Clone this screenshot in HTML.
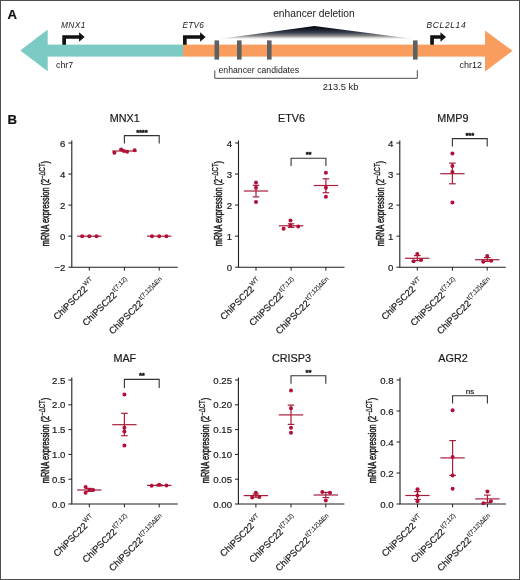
<!DOCTYPE html>
<html><head><meta charset="utf-8"><style>
html,body{margin:0;padding:0;background:#fff;}
body{width:520px;height:580px;overflow:hidden;}
svg{display:block;font-family:"Liberation Sans", sans-serif;will-change:transform;}
text{stroke:#1a1a1a;stroke-width:0.2px;}
text.na{stroke:none;}
</style></head><body>
<svg width="520" height="580" viewBox="0 0 520 580">
<rect x="0" y="0" width="520" height="580" fill="#fff"/>
<text x="7.6" y="18.6" font-size="13.2" font-weight="bold" fill="#111">A</text>
<defs><linearGradient id="tg" x1="0" y1="0" x2="0" y2="1"><stop offset="0" stop-color="#05070e"/><stop offset="0.25" stop-color="#151a28"/><stop offset="0.5" stop-color="#394050"/><stop offset="0.75" stop-color="#8d8c8a"/><stop offset="0.9" stop-color="#e4e4e2"/><stop offset="1" stop-color="#fff"/></linearGradient></defs>
<polygon points="314.4,26 216.5,39.3 416,39.3" fill="url(#tg)"/>
<rect x="47" y="44.6" width="136.5" height="12" fill="#7ccac4"/>
<polygon points="20.3,50.5 47.7,29.6 47.7,71.2" fill="#7ccac4"/>
<rect x="183" y="44.6" width="303" height="12" fill="#f99d5f"/>
<polygon points="485,30.6 512.6,50.8 485,71.6" fill="#f99d5f"/>
<rect x="214.5" y="40.4" width="4.6" height="19.2" fill="#5f6062"/>
<rect x="237" y="40.4" width="4.6" height="19.2" fill="#5f6062"/>
<rect x="267" y="40.4" width="4.6" height="19.2" fill="#5f6062"/>
<rect x="413" y="40.4" width="4.6" height="19.2" fill="#5f6062"/>
<path d="M62.3,44.8 L62.3,35.2 L79.1,35.2 L79.1,32.2 L84.6,36.9 L79.1,41.8 L79.1,38.7 L66.0,38.7 L66.0,44.8 Z" fill="#111"/>
<path d="M183,44.8 L183,35.2 L200.1,35.2 L200.1,32.2 L205.6,36.9 L200.1,41.8 L200.1,38.7 L186.7,38.7 L186.7,44.8 Z" fill="#111"/>
<path d="M430.2,44.8 L430.2,35.2 L440.5,35.2 L440.5,32.2 L446,36.9 L440.5,41.8 L440.5,38.7 L433.9,38.7 L433.9,44.8 Z" fill="#111"/>
<text class="na" x="61.0" y="28.4" font-size="8.4" font-style="italic" letter-spacing="0.35" fill="#1a1a1a">MNX1</text>
<text class="na" x="182.4" y="28.3" font-size="8.4" font-style="italic" letter-spacing="0.2" fill="#1a1a1a">ETV6</text>
<text class="na" x="426.5" y="28.3" font-size="8.4" font-style="italic" letter-spacing="0.7" fill="#1a1a1a">BCL2L14</text>
<text class="na" x="313.9" y="16.9" font-size="10.25" text-anchor="middle" fill="#1a1a1a">enhancer deletion</text>
<text class="na" x="56" y="67.7" font-size="8.8" fill="#1a1a1a">chr7</text>
<text class="na" x="459.6" y="68.0" font-size="9" fill="#1a1a1a">chr12</text>
<text class="na" x="218.5" y="72.8" font-size="8.7" fill="#1a1a1a">enhancer candidates</text>
<text class="na" x="340.5" y="89.6" font-size="9.3" text-anchor="middle" fill="#1a1a1a">213.5 kb</text>
<path d="M214.8,70.5 V78.3 H417.3 V70.2" fill="none" stroke="#4a4a4a" stroke-width="1"/>
<text x="7.4" y="123.8" font-size="13.2" font-weight="bold" fill="#111">B</text>
<path d="M71.8,140.4 V267.2 H177.8" fill="none" stroke="#1e1e1e" stroke-width="1.1"/>
<line x1="68.39999999999999" y1="267.20" x2="71.8" y2="267.20" stroke="#1e1e1e" stroke-width="1"/>
<text x="65.39999999999999" y="270.70" font-size="9.6" text-anchor="end" fill="#1a1a1a">−2</text>
<line x1="68.39999999999999" y1="236.15" x2="71.8" y2="236.15" stroke="#1e1e1e" stroke-width="1"/>
<text x="65.39999999999999" y="239.65" font-size="9.6" text-anchor="end" fill="#1a1a1a">0</text>
<line x1="68.39999999999999" y1="205.10" x2="71.8" y2="205.10" stroke="#1e1e1e" stroke-width="1"/>
<text x="65.39999999999999" y="208.60" font-size="9.6" text-anchor="end" fill="#1a1a1a">2</text>
<line x1="68.39999999999999" y1="174.05" x2="71.8" y2="174.05" stroke="#1e1e1e" stroke-width="1"/>
<text x="65.39999999999999" y="177.55" font-size="9.6" text-anchor="end" fill="#1a1a1a">4</text>
<line x1="68.39999999999999" y1="143.00" x2="71.8" y2="143.00" stroke="#1e1e1e" stroke-width="1"/>
<text x="65.39999999999999" y="146.50" font-size="9.6" text-anchor="end" fill="#1a1a1a">6</text>
<line x1="89.3" y1="267.2" x2="89.3" y2="270.59999999999997" stroke="#1e1e1e" stroke-width="1"/>
<line x1="124.4" y1="267.2" x2="124.4" y2="270.59999999999997" stroke="#1e1e1e" stroke-width="1"/>
<line x1="159.2" y1="267.2" x2="159.2" y2="270.59999999999997" stroke="#1e1e1e" stroke-width="1"/>
<text x="124.8" y="122.0" font-size="10.8" text-anchor="middle" fill="#1a1a1a">MNX1</text>
<text transform="translate(49.0,203.6) rotate(-90) scale(0.7,1)" font-size="10.5" text-anchor="middle" fill="#1a1a1a" style="stroke-width:0.45px">mRNA expression (2<tspan font-size="8.6" dy="-4.2" style="stroke-width:0.3px">−ΔCT</tspan><tspan dy="4.2">)</tspan></text>
<text transform="translate(95.40,282.30) rotate(-45)" font-size="9.3" text-anchor="end" fill="#1a1a1a">ChiPSC22<tspan font-size="6.3" dx="0.8" dy="-4.3" style="stroke-width:0.1px">WT</tspan></text>
<text transform="translate(130.50,282.30) rotate(-45)" font-size="9.3" text-anchor="end" fill="#1a1a1a">ChiPSC22<tspan font-size="6.3" dx="0.8" dy="-4.3" style="stroke-width:0.1px">t(7;12)</tspan></text>
<text transform="translate(165.30,282.30) rotate(-45)" font-size="9.3" text-anchor="end" fill="#1a1a1a">ChiPSC22<tspan font-size="6.3" dx="0.8" dy="-4.3" style="stroke-width:0.1px">t(7;12)ΔEn</tspan></text>
<line x1="77.1" y1="236.15" x2="101.5" y2="236.15" stroke="#a61f3b" stroke-width="1.2"/>
<circle cx="82.10" cy="236.15" r="2.0" fill="#b30f38"/>
<circle cx="89.30" cy="236.15" r="2.0" fill="#b30f38"/>
<circle cx="96.50" cy="236.15" r="2.0" fill="#b30f38"/>
<line x1="112.2" y1="151.01" x2="136.6" y2="151.01" stroke="#a61f3b" stroke-width="1.2"/>
<circle cx="114.40" cy="152.82" r="2.0" fill="#b30f38"/>
<circle cx="121.10" cy="149.51" r="2.0" fill="#b30f38"/>
<circle cx="123.90" cy="150.91" r="2.0" fill="#b30f38"/>
<circle cx="127.10" cy="151.71" r="2.0" fill="#b30f38"/>
<circle cx="134.60" cy="150.31" r="2.0" fill="#b30f38"/>
<line x1="147.0" y1="236.15" x2="171.39999999999998" y2="236.15" stroke="#a61f3b" stroke-width="1.2"/>
<circle cx="152.00" cy="236.15" r="2.0" fill="#b30f38"/>
<circle cx="159.20" cy="236.15" r="2.0" fill="#b30f38"/>
<circle cx="166.40" cy="236.15" r="2.0" fill="#b30f38"/>
<path d="M124.4,143.6 V135.6 H159.2 V143.6" fill="none" stroke="#333" stroke-width="1.1"/>
<text x="141.8" y="134.6" font-size="7.8" letter-spacing="-0.2" style="stroke-width:0.55px" text-anchor="middle" fill="#1a1a1a">****</text>
<path d="M238.5,140.4 V267.2 H344.5" fill="none" stroke="#1e1e1e" stroke-width="1.1"/>
<line x1="235.1" y1="267.20" x2="238.5" y2="267.20" stroke="#1e1e1e" stroke-width="1"/>
<text x="232.1" y="270.70" font-size="9.6" text-anchor="end" fill="#1a1a1a">0</text>
<line x1="235.1" y1="236.15" x2="238.5" y2="236.15" stroke="#1e1e1e" stroke-width="1"/>
<text x="232.1" y="239.65" font-size="9.6" text-anchor="end" fill="#1a1a1a">1</text>
<line x1="235.1" y1="205.10" x2="238.5" y2="205.10" stroke="#1e1e1e" stroke-width="1"/>
<text x="232.1" y="208.60" font-size="9.6" text-anchor="end" fill="#1a1a1a">2</text>
<line x1="235.1" y1="174.05" x2="238.5" y2="174.05" stroke="#1e1e1e" stroke-width="1"/>
<text x="232.1" y="177.55" font-size="9.6" text-anchor="end" fill="#1a1a1a">3</text>
<line x1="235.1" y1="143.00" x2="238.5" y2="143.00" stroke="#1e1e1e" stroke-width="1"/>
<text x="232.1" y="146.50" font-size="9.6" text-anchor="end" fill="#1a1a1a">4</text>
<line x1="256.0" y1="267.2" x2="256.0" y2="270.59999999999997" stroke="#1e1e1e" stroke-width="1"/>
<line x1="291.1" y1="267.2" x2="291.1" y2="270.59999999999997" stroke="#1e1e1e" stroke-width="1"/>
<line x1="325.9" y1="267.2" x2="325.9" y2="270.59999999999997" stroke="#1e1e1e" stroke-width="1"/>
<text x="291.5" y="122.0" font-size="10.8" text-anchor="middle" fill="#1a1a1a">ETV6</text>
<text transform="translate(222.4,203.6) rotate(-90) scale(0.7,1)" font-size="10.5" text-anchor="middle" fill="#1a1a1a" style="stroke-width:0.45px">mRNA expression (2<tspan font-size="8.6" dy="-4.2" style="stroke-width:0.3px">−ΔCT</tspan><tspan dy="4.2">)</tspan></text>
<text transform="translate(262.10,282.30) rotate(-45)" font-size="9.3" text-anchor="end" fill="#1a1a1a">ChiPSC22<tspan font-size="6.3" dx="0.8" dy="-4.3" style="stroke-width:0.1px">WT</tspan></text>
<text transform="translate(297.20,282.30) rotate(-45)" font-size="9.3" text-anchor="end" fill="#1a1a1a">ChiPSC22<tspan font-size="6.3" dx="0.8" dy="-4.3" style="stroke-width:0.1px">t(7;12)</tspan></text>
<text transform="translate(332.00,282.30) rotate(-45)" font-size="9.3" text-anchor="end" fill="#1a1a1a">ChiPSC22<tspan font-size="6.3" dx="0.8" dy="-4.3" style="stroke-width:0.1px">t(7;12)ΔEn</tspan></text>
<line x1="243.8" y1="191.00" x2="268.2" y2="191.00" stroke="#a61f3b" stroke-width="1.2"/>
<line x1="256.0" y1="185.30" x2="256.0" y2="196.90" stroke="#a61f3b" stroke-width="1.2"/>
<line x1="252.7" y1="185.30" x2="259.3" y2="185.30" stroke="#a61f3b" stroke-width="1.2"/>
<line x1="252.7" y1="196.90" x2="259.3" y2="196.90" stroke="#a61f3b" stroke-width="1.2"/>
<circle cx="256.00" cy="182.40" r="2.0" fill="#b30f38"/>
<circle cx="256.00" cy="187.70" r="2.0" fill="#b30f38"/>
<circle cx="256.00" cy="202.00" r="2.0" fill="#b30f38"/>
<line x1="278.90000000000003" y1="225.80" x2="303.3" y2="225.80" stroke="#a61f3b" stroke-width="1.2"/>
<line x1="291.1" y1="223.80" x2="291.1" y2="227.40" stroke="#a61f3b" stroke-width="1.2"/>
<line x1="287.8" y1="223.80" x2="294.40000000000003" y2="223.80" stroke="#a61f3b" stroke-width="1.2"/>
<line x1="287.8" y1="227.40" x2="294.40000000000003" y2="227.40" stroke="#a61f3b" stroke-width="1.2"/>
<circle cx="283.60" cy="228.80" r="2.0" fill="#b30f38"/>
<circle cx="290.50" cy="220.40" r="2.0" fill="#b30f38"/>
<circle cx="290.50" cy="225.40" r="2.0" fill="#b30f38"/>
<circle cx="298.20" cy="226.50" r="2.0" fill="#b30f38"/>
<line x1="313.7" y1="185.50" x2="338.09999999999997" y2="185.50" stroke="#a61f3b" stroke-width="1.2"/>
<line x1="325.9" y1="178.80" x2="325.9" y2="192.70" stroke="#a61f3b" stroke-width="1.2"/>
<line x1="322.59999999999997" y1="178.80" x2="329.2" y2="178.80" stroke="#a61f3b" stroke-width="1.2"/>
<line x1="322.59999999999997" y1="192.70" x2="329.2" y2="192.70" stroke="#a61f3b" stroke-width="1.2"/>
<circle cx="325.90" cy="172.70" r="2.0" fill="#b30f38"/>
<circle cx="325.90" cy="187.70" r="2.0" fill="#b30f38"/>
<circle cx="325.90" cy="196.70" r="2.0" fill="#b30f38"/>
<path d="M291.1,166.0 V158.2 H325.9 V166.0" fill="none" stroke="#333" stroke-width="1.1"/>
<text x="308.5" y="157.2" font-size="7.8" letter-spacing="-0.2" style="stroke-width:0.55px" text-anchor="middle" fill="#1a1a1a">**</text>
<path d="M399.8,140.4 V267.2 H505.8" fill="none" stroke="#1e1e1e" stroke-width="1.1"/>
<line x1="396.40000000000003" y1="267.20" x2="399.8" y2="267.20" stroke="#1e1e1e" stroke-width="1"/>
<text x="393.40000000000003" y="270.70" font-size="9.6" text-anchor="end" fill="#1a1a1a">0</text>
<line x1="396.40000000000003" y1="236.15" x2="399.8" y2="236.15" stroke="#1e1e1e" stroke-width="1"/>
<text x="393.40000000000003" y="239.65" font-size="9.6" text-anchor="end" fill="#1a1a1a">1</text>
<line x1="396.40000000000003" y1="205.10" x2="399.8" y2="205.10" stroke="#1e1e1e" stroke-width="1"/>
<text x="393.40000000000003" y="208.60" font-size="9.6" text-anchor="end" fill="#1a1a1a">2</text>
<line x1="396.40000000000003" y1="174.05" x2="399.8" y2="174.05" stroke="#1e1e1e" stroke-width="1"/>
<text x="393.40000000000003" y="177.55" font-size="9.6" text-anchor="end" fill="#1a1a1a">3</text>
<line x1="396.40000000000003" y1="143.00" x2="399.8" y2="143.00" stroke="#1e1e1e" stroke-width="1"/>
<text x="393.40000000000003" y="146.50" font-size="9.6" text-anchor="end" fill="#1a1a1a">4</text>
<line x1="417.3" y1="267.2" x2="417.3" y2="270.59999999999997" stroke="#1e1e1e" stroke-width="1"/>
<line x1="452.40000000000003" y1="267.2" x2="452.40000000000003" y2="270.59999999999997" stroke="#1e1e1e" stroke-width="1"/>
<line x1="487.20000000000005" y1="267.2" x2="487.20000000000005" y2="270.59999999999997" stroke="#1e1e1e" stroke-width="1"/>
<text x="452.8" y="122.0" font-size="10.8" text-anchor="middle" fill="#1a1a1a">MMP9</text>
<text transform="translate(384.2,203.6) rotate(-90) scale(0.7,1)" font-size="10.5" text-anchor="middle" fill="#1a1a1a" style="stroke-width:0.45px">mRNA expression (2<tspan font-size="8.6" dy="-4.2" style="stroke-width:0.3px">−ΔCT</tspan><tspan dy="4.2">)</tspan></text>
<text transform="translate(423.40,282.30) rotate(-45)" font-size="9.3" text-anchor="end" fill="#1a1a1a">ChiPSC22<tspan font-size="6.3" dx="0.8" dy="-4.3" style="stroke-width:0.1px">WT</tspan></text>
<text transform="translate(458.50,282.30) rotate(-45)" font-size="9.3" text-anchor="end" fill="#1a1a1a">ChiPSC22<tspan font-size="6.3" dx="0.8" dy="-4.3" style="stroke-width:0.1px">t(7;12)</tspan></text>
<text transform="translate(493.30,282.30) rotate(-45)" font-size="9.3" text-anchor="end" fill="#1a1a1a">ChiPSC22<tspan font-size="6.3" dx="0.8" dy="-4.3" style="stroke-width:0.1px">t(7;12)ΔEn</tspan></text>
<line x1="405.1" y1="258.30" x2="429.5" y2="258.30" stroke="#a61f3b" stroke-width="1.2"/>
<line x1="417.3" y1="255.60" x2="417.3" y2="260.60" stroke="#a61f3b" stroke-width="1.2"/>
<line x1="414.0" y1="255.60" x2="420.6" y2="255.60" stroke="#a61f3b" stroke-width="1.2"/>
<line x1="414.0" y1="260.60" x2="420.6" y2="260.60" stroke="#a61f3b" stroke-width="1.2"/>
<circle cx="417.30" cy="254.10" r="2.0" fill="#b30f38"/>
<circle cx="413.50" cy="261.20" r="2.0" fill="#b30f38"/>
<circle cx="421.10" cy="260.10" r="2.0" fill="#b30f38"/>
<line x1="440.20000000000005" y1="173.70" x2="464.6" y2="173.70" stroke="#a61f3b" stroke-width="1.2"/>
<line x1="452.40000000000003" y1="163.10" x2="452.40000000000003" y2="183.80" stroke="#a61f3b" stroke-width="1.2"/>
<line x1="449.1" y1="163.10" x2="455.70000000000005" y2="163.10" stroke="#a61f3b" stroke-width="1.2"/>
<line x1="449.1" y1="183.80" x2="455.70000000000005" y2="183.80" stroke="#a61f3b" stroke-width="1.2"/>
<circle cx="452.40" cy="153.40" r="2.0" fill="#b30f38"/>
<circle cx="452.40" cy="166.10" r="2.0" fill="#b30f38"/>
<circle cx="452.40" cy="172.10" r="2.0" fill="#b30f38"/>
<circle cx="452.40" cy="202.40" r="2.0" fill="#b30f38"/>
<line x1="475.00000000000006" y1="259.70" x2="499.40000000000003" y2="259.70" stroke="#a61f3b" stroke-width="1.2"/>
<line x1="487.20000000000005" y1="257.60" x2="487.20000000000005" y2="261.40" stroke="#a61f3b" stroke-width="1.2"/>
<line x1="483.90000000000003" y1="257.60" x2="490.50000000000006" y2="257.60" stroke="#a61f3b" stroke-width="1.2"/>
<line x1="483.90000000000003" y1="261.40" x2="490.50000000000006" y2="261.40" stroke="#a61f3b" stroke-width="1.2"/>
<circle cx="487.20" cy="256.10" r="2.0" fill="#b30f38"/>
<circle cx="483.20" cy="261.80" r="2.0" fill="#b30f38"/>
<circle cx="491.20" cy="260.80" r="2.0" fill="#b30f38"/>
<path d="M452.40000000000003,146.6 V138.6 H487.20000000000005 V146.6" fill="none" stroke="#333" stroke-width="1.1"/>
<text x="469.80000000000007" y="137.6" font-size="7.8" letter-spacing="-0.2" style="stroke-width:0.55px" text-anchor="middle" fill="#1a1a1a">***</text>
<path d="M71.8,377.4 V504.0 H177.8" fill="none" stroke="#1e1e1e" stroke-width="1.1"/>
<line x1="68.39999999999999" y1="504.00" x2="71.8" y2="504.00" stroke="#1e1e1e" stroke-width="1"/>
<text x="65.39999999999999" y="507.50" font-size="9.6" text-anchor="end" fill="#1a1a1a">0.0</text>
<line x1="68.39999999999999" y1="479.20" x2="71.8" y2="479.20" stroke="#1e1e1e" stroke-width="1"/>
<text x="65.39999999999999" y="482.70" font-size="9.6" text-anchor="end" fill="#1a1a1a">0.5</text>
<line x1="68.39999999999999" y1="454.40" x2="71.8" y2="454.40" stroke="#1e1e1e" stroke-width="1"/>
<text x="65.39999999999999" y="457.90" font-size="9.6" text-anchor="end" fill="#1a1a1a">1.0</text>
<line x1="68.39999999999999" y1="429.60" x2="71.8" y2="429.60" stroke="#1e1e1e" stroke-width="1"/>
<text x="65.39999999999999" y="433.10" font-size="9.6" text-anchor="end" fill="#1a1a1a">1.5</text>
<line x1="68.39999999999999" y1="404.80" x2="71.8" y2="404.80" stroke="#1e1e1e" stroke-width="1"/>
<text x="65.39999999999999" y="408.30" font-size="9.6" text-anchor="end" fill="#1a1a1a">2.0</text>
<line x1="68.39999999999999" y1="380.00" x2="71.8" y2="380.00" stroke="#1e1e1e" stroke-width="1"/>
<text x="65.39999999999999" y="383.50" font-size="9.6" text-anchor="end" fill="#1a1a1a">2.5</text>
<line x1="89.3" y1="504.0" x2="89.3" y2="507.4" stroke="#1e1e1e" stroke-width="1"/>
<line x1="124.4" y1="504.0" x2="124.4" y2="507.4" stroke="#1e1e1e" stroke-width="1"/>
<line x1="159.2" y1="504.0" x2="159.2" y2="507.4" stroke="#1e1e1e" stroke-width="1"/>
<text x="124.8" y="361.8" font-size="10.8" text-anchor="middle" fill="#1a1a1a">MAF</text>
<text transform="translate(49.0,440.5) rotate(-90) scale(0.7,1)" font-size="10.5" text-anchor="middle" fill="#1a1a1a" style="stroke-width:0.45px">mRNA expression (2<tspan font-size="8.6" dy="-4.2" style="stroke-width:0.3px">−ΔCT</tspan><tspan dy="4.2">)</tspan></text>
<text transform="translate(95.40,519.10) rotate(-45)" font-size="9.3" text-anchor="end" fill="#1a1a1a">ChiPSC22<tspan font-size="6.3" dx="0.8" dy="-4.3" style="stroke-width:0.1px">WT</tspan></text>
<text transform="translate(130.50,519.10) rotate(-45)" font-size="9.3" text-anchor="end" fill="#1a1a1a">ChiPSC22<tspan font-size="6.3" dx="0.8" dy="-4.3" style="stroke-width:0.1px">t(7;12)</tspan></text>
<text transform="translate(165.30,519.10) rotate(-45)" font-size="9.3" text-anchor="end" fill="#1a1a1a">ChiPSC22<tspan font-size="6.3" dx="0.8" dy="-4.3" style="stroke-width:0.1px">t(7;12)ΔEn</tspan></text>
<line x1="77.1" y1="490.00" x2="101.5" y2="490.00" stroke="#a61f3b" stroke-width="1.2"/>
<line x1="89.3" y1="488.40" x2="89.3" y2="491.40" stroke="#a61f3b" stroke-width="1.2"/>
<line x1="86.0" y1="488.40" x2="92.6" y2="488.40" stroke="#a61f3b" stroke-width="1.2"/>
<line x1="86.0" y1="491.40" x2="92.6" y2="491.40" stroke="#a61f3b" stroke-width="1.2"/>
<circle cx="85.60" cy="487.00" r="2.0" fill="#b30f38"/>
<circle cx="85.60" cy="492.80" r="2.0" fill="#b30f38"/>
<circle cx="89.50" cy="490.00" r="2.0" fill="#b30f38"/>
<circle cx="93.20" cy="490.00" r="2.0" fill="#b30f38"/>
<line x1="112.2" y1="424.70" x2="136.6" y2="424.70" stroke="#a61f3b" stroke-width="1.2"/>
<line x1="124.4" y1="413.30" x2="124.4" y2="435.70" stroke="#a61f3b" stroke-width="1.2"/>
<line x1="121.10000000000001" y1="413.30" x2="127.7" y2="413.30" stroke="#a61f3b" stroke-width="1.2"/>
<line x1="121.10000000000001" y1="435.70" x2="127.7" y2="435.70" stroke="#a61f3b" stroke-width="1.2"/>
<circle cx="124.40" cy="394.60" r="2.0" fill="#b30f38"/>
<circle cx="124.40" cy="427.70" r="2.0" fill="#b30f38"/>
<circle cx="124.40" cy="431.60" r="2.0" fill="#b30f38"/>
<circle cx="124.40" cy="445.50" r="2.0" fill="#b30f38"/>
<line x1="147.0" y1="485.40" x2="171.39999999999998" y2="485.40" stroke="#a61f3b" stroke-width="1.2"/>
<line x1="159.2" y1="484.90" x2="159.2" y2="485.90" stroke="#a61f3b" stroke-width="1.2"/>
<line x1="155.89999999999998" y1="484.90" x2="162.5" y2="484.90" stroke="#a61f3b" stroke-width="1.2"/>
<line x1="155.89999999999998" y1="485.90" x2="162.5" y2="485.90" stroke="#a61f3b" stroke-width="1.2"/>
<circle cx="151.70" cy="485.80" r="2.0" fill="#b30f38"/>
<circle cx="159.20" cy="484.70" r="2.0" fill="#b30f38"/>
<circle cx="166.50" cy="485.60" r="2.0" fill="#b30f38"/>
<path d="M124.4,388.0 V379.4 H159.2 V388.0" fill="none" stroke="#333" stroke-width="1.1"/>
<text x="141.8" y="378.4" font-size="7.8" letter-spacing="-0.2" style="stroke-width:0.55px" text-anchor="middle" fill="#1a1a1a">**</text>
<path d="M238.4,377.4 V504.0 H344.4" fill="none" stroke="#1e1e1e" stroke-width="1.1"/>
<line x1="235.0" y1="504.00" x2="238.4" y2="504.00" stroke="#1e1e1e" stroke-width="1"/>
<text x="232.0" y="507.50" font-size="9.6" text-anchor="end" fill="#1a1a1a">0.00</text>
<line x1="235.0" y1="479.20" x2="238.4" y2="479.20" stroke="#1e1e1e" stroke-width="1"/>
<text x="232.0" y="482.70" font-size="9.6" text-anchor="end" fill="#1a1a1a">0.05</text>
<line x1="235.0" y1="454.40" x2="238.4" y2="454.40" stroke="#1e1e1e" stroke-width="1"/>
<text x="232.0" y="457.90" font-size="9.6" text-anchor="end" fill="#1a1a1a">0.10</text>
<line x1="235.0" y1="429.60" x2="238.4" y2="429.60" stroke="#1e1e1e" stroke-width="1"/>
<text x="232.0" y="433.10" font-size="9.6" text-anchor="end" fill="#1a1a1a">0.15</text>
<line x1="235.0" y1="404.80" x2="238.4" y2="404.80" stroke="#1e1e1e" stroke-width="1"/>
<text x="232.0" y="408.30" font-size="9.6" text-anchor="end" fill="#1a1a1a">0.20</text>
<line x1="235.0" y1="380.00" x2="238.4" y2="380.00" stroke="#1e1e1e" stroke-width="1"/>
<text x="232.0" y="383.50" font-size="9.6" text-anchor="end" fill="#1a1a1a">0.25</text>
<line x1="255.9" y1="504.0" x2="255.9" y2="507.4" stroke="#1e1e1e" stroke-width="1"/>
<line x1="291.0" y1="504.0" x2="291.0" y2="507.4" stroke="#1e1e1e" stroke-width="1"/>
<line x1="325.8" y1="504.0" x2="325.8" y2="507.4" stroke="#1e1e1e" stroke-width="1"/>
<text x="291.4" y="361.8" font-size="10.8" text-anchor="middle" fill="#1a1a1a">CRISP3</text>
<text transform="translate(209.0,440.5) rotate(-90) scale(0.7,1)" font-size="10.5" text-anchor="middle" fill="#1a1a1a" style="stroke-width:0.45px">mRNA expression (2<tspan font-size="8.6" dy="-4.2" style="stroke-width:0.3px">−ΔCT</tspan><tspan dy="4.2">)</tspan></text>
<text transform="translate(262.00,519.10) rotate(-45)" font-size="9.3" text-anchor="end" fill="#1a1a1a">ChiPSC22<tspan font-size="6.3" dx="0.8" dy="-4.3" style="stroke-width:0.1px">WT</tspan></text>
<text transform="translate(297.10,519.10) rotate(-45)" font-size="9.3" text-anchor="end" fill="#1a1a1a">ChiPSC22<tspan font-size="6.3" dx="0.8" dy="-4.3" style="stroke-width:0.1px">t(7;12)</tspan></text>
<text transform="translate(331.90,519.10) rotate(-45)" font-size="9.3" text-anchor="end" fill="#1a1a1a">ChiPSC22<tspan font-size="6.3" dx="0.8" dy="-4.3" style="stroke-width:0.1px">t(7;12)ΔEn</tspan></text>
<line x1="243.70000000000002" y1="495.60" x2="268.1" y2="495.60" stroke="#a61f3b" stroke-width="1.2"/>
<line x1="255.9" y1="494.00" x2="255.9" y2="497.20" stroke="#a61f3b" stroke-width="1.2"/>
<line x1="252.6" y1="494.00" x2="259.2" y2="494.00" stroke="#a61f3b" stroke-width="1.2"/>
<line x1="252.6" y1="497.20" x2="259.2" y2="497.20" stroke="#a61f3b" stroke-width="1.2"/>
<circle cx="255.90" cy="492.80" r="2.0" fill="#b30f38"/>
<circle cx="252.20" cy="497.50" r="2.0" fill="#b30f38"/>
<circle cx="259.40" cy="497.10" r="2.0" fill="#b30f38"/>
<line x1="278.8" y1="414.90" x2="303.2" y2="414.90" stroke="#a61f3b" stroke-width="1.2"/>
<line x1="291.0" y1="405.10" x2="291.0" y2="424.40" stroke="#a61f3b" stroke-width="1.2"/>
<line x1="287.7" y1="405.10" x2="294.3" y2="405.10" stroke="#a61f3b" stroke-width="1.2"/>
<line x1="287.7" y1="424.40" x2="294.3" y2="424.40" stroke="#a61f3b" stroke-width="1.2"/>
<circle cx="291.00" cy="390.50" r="2.0" fill="#b30f38"/>
<circle cx="291.00" cy="408.30" r="2.0" fill="#b30f38"/>
<circle cx="291.00" cy="427.80" r="2.0" fill="#b30f38"/>
<circle cx="291.00" cy="432.80" r="2.0" fill="#b30f38"/>
<line x1="313.6" y1="495.00" x2="338.0" y2="495.00" stroke="#a61f3b" stroke-width="1.2"/>
<line x1="325.8" y1="492.40" x2="325.8" y2="497.60" stroke="#a61f3b" stroke-width="1.2"/>
<line x1="322.5" y1="492.40" x2="329.1" y2="492.40" stroke="#a61f3b" stroke-width="1.2"/>
<line x1="322.5" y1="497.60" x2="329.1" y2="497.60" stroke="#a61f3b" stroke-width="1.2"/>
<circle cx="322.30" cy="491.90" r="2.0" fill="#b30f38"/>
<circle cx="330.00" cy="492.80" r="2.0" fill="#b30f38"/>
<circle cx="325.80" cy="500.60" r="2.0" fill="#b30f38"/>
<path d="M291.0,383.7 V375.8 H325.8 V383.7" fill="none" stroke="#333" stroke-width="1.1"/>
<text x="308.4" y="374.8" font-size="7.8" letter-spacing="-0.2" style="stroke-width:0.55px" text-anchor="middle" fill="#1a1a1a">**</text>
<path d="M400.0,377.4 V504.0 H506.0" fill="none" stroke="#1e1e1e" stroke-width="1.1"/>
<line x1="396.6" y1="504.00" x2="400.0" y2="504.00" stroke="#1e1e1e" stroke-width="1"/>
<text x="393.6" y="507.50" font-size="9.6" text-anchor="end" fill="#1a1a1a">0.0</text>
<line x1="396.6" y1="473.00" x2="400.0" y2="473.00" stroke="#1e1e1e" stroke-width="1"/>
<text x="393.6" y="476.50" font-size="9.6" text-anchor="end" fill="#1a1a1a">0.2</text>
<line x1="396.6" y1="442.00" x2="400.0" y2="442.00" stroke="#1e1e1e" stroke-width="1"/>
<text x="393.6" y="445.50" font-size="9.6" text-anchor="end" fill="#1a1a1a">0.4</text>
<line x1="396.6" y1="411.00" x2="400.0" y2="411.00" stroke="#1e1e1e" stroke-width="1"/>
<text x="393.6" y="414.50" font-size="9.6" text-anchor="end" fill="#1a1a1a">0.6</text>
<line x1="396.6" y1="380.00" x2="400.0" y2="380.00" stroke="#1e1e1e" stroke-width="1"/>
<text x="393.6" y="383.50" font-size="9.6" text-anchor="end" fill="#1a1a1a">0.8</text>
<line x1="417.5" y1="504.0" x2="417.5" y2="507.4" stroke="#1e1e1e" stroke-width="1"/>
<line x1="452.6" y1="504.0" x2="452.6" y2="507.4" stroke="#1e1e1e" stroke-width="1"/>
<line x1="487.4" y1="504.0" x2="487.4" y2="507.4" stroke="#1e1e1e" stroke-width="1"/>
<text x="453.0" y="361.8" font-size="10.8" text-anchor="middle" fill="#1a1a1a">AGR2</text>
<text transform="translate(376.1,440.5) rotate(-90) scale(0.7,1)" font-size="10.5" text-anchor="middle" fill="#1a1a1a" style="stroke-width:0.45px">mRNA expression (2<tspan font-size="8.6" dy="-4.2" style="stroke-width:0.3px">−ΔCT</tspan><tspan dy="4.2">)</tspan></text>
<text transform="translate(423.60,519.10) rotate(-45)" font-size="9.3" text-anchor="end" fill="#1a1a1a">ChiPSC22<tspan font-size="6.3" dx="0.8" dy="-4.3" style="stroke-width:0.1px">WT</tspan></text>
<text transform="translate(458.70,519.10) rotate(-45)" font-size="9.3" text-anchor="end" fill="#1a1a1a">ChiPSC22<tspan font-size="6.3" dx="0.8" dy="-4.3" style="stroke-width:0.1px">t(7;12)</tspan></text>
<text transform="translate(493.50,519.10) rotate(-45)" font-size="9.3" text-anchor="end" fill="#1a1a1a">ChiPSC22<tspan font-size="6.3" dx="0.8" dy="-4.3" style="stroke-width:0.1px">t(7;12)ΔEn</tspan></text>
<line x1="405.3" y1="495.50" x2="429.7" y2="495.50" stroke="#a61f3b" stroke-width="1.2"/>
<line x1="417.5" y1="491.60" x2="417.5" y2="499.40" stroke="#a61f3b" stroke-width="1.2"/>
<line x1="414.2" y1="491.60" x2="420.8" y2="491.60" stroke="#a61f3b" stroke-width="1.2"/>
<line x1="414.2" y1="499.40" x2="420.8" y2="499.40" stroke="#a61f3b" stroke-width="1.2"/>
<circle cx="417.50" cy="489.30" r="2.0" fill="#b30f38"/>
<circle cx="417.50" cy="495.50" r="2.0" fill="#b30f38"/>
<circle cx="417.50" cy="501.20" r="2.0" fill="#b30f38"/>
<line x1="440.40000000000003" y1="457.90" x2="464.8" y2="457.90" stroke="#a61f3b" stroke-width="1.2"/>
<line x1="452.6" y1="440.60" x2="452.6" y2="475.40" stroke="#a61f3b" stroke-width="1.2"/>
<line x1="449.3" y1="440.60" x2="455.90000000000003" y2="440.60" stroke="#a61f3b" stroke-width="1.2"/>
<line x1="449.3" y1="475.40" x2="455.90000000000003" y2="475.40" stroke="#a61f3b" stroke-width="1.2"/>
<circle cx="452.60" cy="410.30" r="2.0" fill="#b30f38"/>
<circle cx="452.60" cy="457.00" r="2.0" fill="#b30f38"/>
<circle cx="452.60" cy="475.40" r="2.0" fill="#b30f38"/>
<circle cx="452.60" cy="488.80" r="2.0" fill="#b30f38"/>
<line x1="475.2" y1="498.90" x2="499.59999999999997" y2="498.90" stroke="#a61f3b" stroke-width="1.2"/>
<line x1="487.4" y1="495.10" x2="487.4" y2="502.70" stroke="#a61f3b" stroke-width="1.2"/>
<line x1="484.09999999999997" y1="495.10" x2="490.7" y2="495.10" stroke="#a61f3b" stroke-width="1.2"/>
<line x1="484.09999999999997" y1="502.70" x2="490.7" y2="502.70" stroke="#a61f3b" stroke-width="1.2"/>
<circle cx="487.40" cy="491.50" r="2.0" fill="#b30f38"/>
<circle cx="483.40" cy="503.20" r="2.0" fill="#b30f38"/>
<circle cx="490.90" cy="501.20" r="2.0" fill="#b30f38"/>
<path d="M452.6,403.6 V395.7 H487.4 V403.6" fill="none" stroke="#333" stroke-width="1.1"/>
<text x="470.0" y="393.5" font-size="8" text-anchor="middle" fill="#1a1a1a">ns</text>
<rect x="0.5" y="0.5" width="519" height="579" fill="none" stroke="#4f4f4f" stroke-width="1"/>
</svg>
</body></html>
